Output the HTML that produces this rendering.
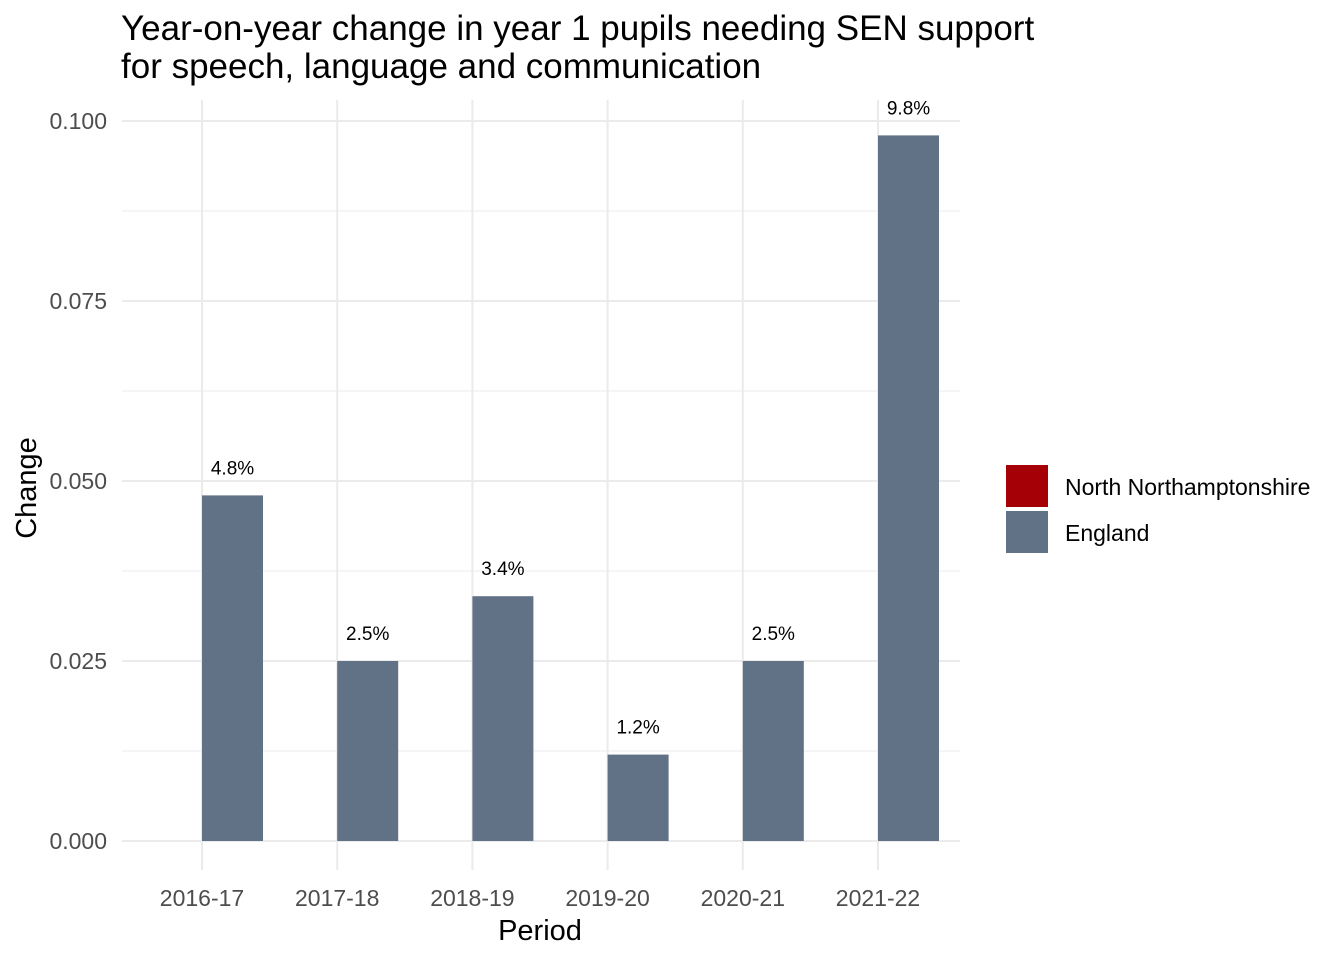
<!DOCTYPE html>
<html><head><meta charset="utf-8"><style>
body{margin:0;background:#fff;}
svg text{font-family:"Liberation Sans",Arial,sans-serif;}
</style></head><body>
<svg id="chart" width="1344" height="960" xmlns="http://www.w3.org/2000/svg">
<text x="121" y="40" font-size="35" fill="#000">Year-on-year change in year 1 pupils needing SEN support</text>
<text x="121" y="78" font-size="35" fill="#000">for speech, language and communication</text>
<g id="grid"></g>
<g id="bars"></g>
<g id="axes"></g>
<text x="540" y="940" font-size="29" text-anchor="middle">Period</text>
<text transform="translate(36,488) rotate(-90)" font-size="29" text-anchor="middle">Change</text>
<g>
<rect x="1006" y="465" width="42" height="42" fill="#a50005"/>
<text x="1065" y="495" font-size="23">North Northamptonshire</text>
<rect x="1006" y="511" width="42" height="42" fill="#617186"/>
<text x="1065" y="541" font-size="23">England</text>
</g>
</svg>
<script>
const categories=["2016-17","2017-18","2018-19","2019-20","2020-21","2021-22"];
const englandValues=[0.048,0.025,0.034,0.012,0.025,0.098];
const englandLabels=["4.8%","2.5%","3.4%","1.2%","2.5%","9.8%"];
const northNorthantsValues=[0,0,0,0,0,0];
const yTicks=[0,0.025,0.05,0.075,0.1];
const yTickLabels=["0.000","0.025","0.050","0.075","0.100"];
const NS="http://www.w3.org/2000/svg";
const x0=202,step=135.2,bw=61,left=122,right=960;
const xPos=i=>x0+i*step;
const yPos=v=>841-v*7200;
function mk(t,a,p){const e=document.createElementNS(NS,t);for(const k in a)e.setAttribute(k,a[k]);p.appendChild(e);return e;}
const grid=document.getElementById('grid'),bars=document.getElementById('bars'),axes=document.getElementById('axes');
for(let k=0;k<4;k++){const v=0.0125+k*0.025;const l=mk('line',{x1:left,x2:right,y1:yPos(v),y2:yPos(v),stroke:'#ebebeb','stroke-width':1},grid);

}
yTicks.forEach((v,i)=>{const l=mk('line',{x1:left,x2:right,y1:yPos(v),y2:yPos(v),stroke:'#ebebeb','stroke-width':2},grid);


const t=mk('text',{x:107,y:yPos(v)+8,'font-size':23,fill:'#4d4d4d','text-anchor':'end'},axes);t.textContent=yTickLabels[i];

});
categories.forEach((c,i)=>{const x=xPos(i);
const l=mk('line',{x1:x,x2:x,y1:100,y2:870,stroke:'#ebebeb','stroke-width':2},grid);


const t=mk('text',{x:x,y:906,'font-size':23,fill:'#4d4d4d','text-anchor':'middle'},axes);t.textContent=c;


const nv=northNorthantsValues[i];
if(nv>0){const r=mk('rect',{x:x-bw,y:yPos(nv),width:bw,height:yPos(0)-yPos(nv),fill:'#a50005'},bars);

}
const v=englandValues[i];
const r=mk('rect',{x:x,y:yPos(v),width:bw,height:yPos(0)-yPos(v),fill:'#617186'},bars);


const lb=mk('text',{x:x+bw/2,y:yPos(v)-21,'font-size':19,fill:'#000','text-anchor':'middle'},bars);lb.textContent=englandLabels[i];

});
</script>
</body></html>
